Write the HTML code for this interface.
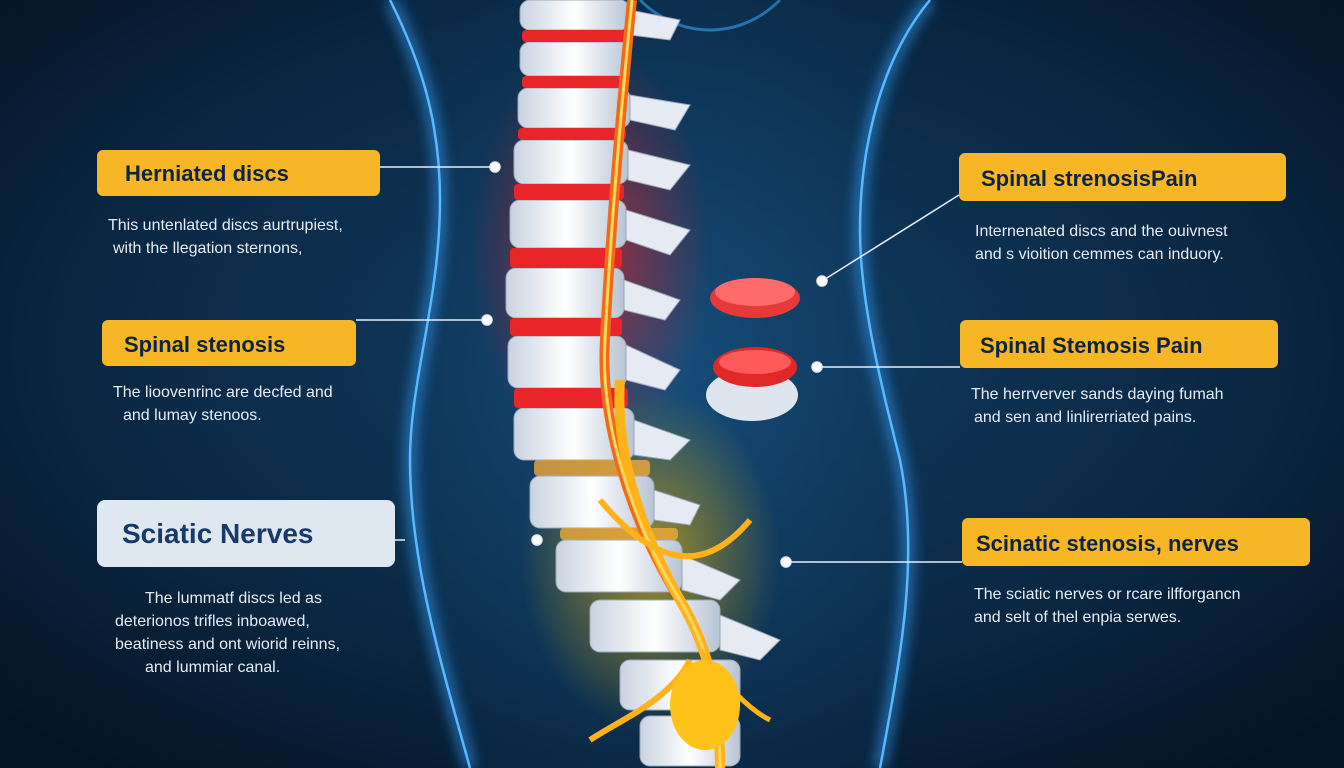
<!DOCTYPE html>
<html><head><meta charset="utf-8"><style>
html,body{margin:0;padding:0;width:1344px;height:768px;overflow:hidden;background:#071a2e}
svg{display:block}
</style></head><body>
<svg width="1344" height="768" viewBox="0 0 1344 768" xmlns="http://www.w3.org/2000/svg" font-family="Liberation Sans, sans-serif">
<defs>
<radialGradient id="bg" cx="0.5" cy="0.45" r="0.7">
<stop offset="0" stop-color="#123d63"/><stop offset="0.6" stop-color="#0a2844"/><stop offset="1" stop-color="#051324"/>
</radialGradient>
<radialGradient id="body" cx="0.5" cy="0.5" r="0.6">
<stop offset="0" stop-color="#1a5a8c" stop-opacity="0.6"/><stop offset="1" stop-color="#0d3458" stop-opacity="0.35"/>
</radialGradient>
<linearGradient id="vert" x1="0" x2="1"><stop offset="0" stop-color="#c9d3e0"/><stop offset="0.5" stop-color="#ffffff"/><stop offset="1" stop-color="#b8c4d4"/></linearGradient>
<radialGradient id="redglow" cx="0.5" cy="0.5" r="0.5"><stop offset="0" stop-color="#ff2020" stop-opacity="0.6"/><stop offset="1" stop-color="#ff2020" stop-opacity="0"/></radialGradient>
<radialGradient id="yglow" cx="0.5" cy="0.5" r="0.5"><stop offset="0" stop-color="#ffc400" stop-opacity="0.6"/><stop offset="1" stop-color="#ffc400" stop-opacity="0"/></radialGradient>
<filter id="blur"><feGaussianBlur stdDeviation="6"/></filter>
</defs>
<rect width="1344" height="768" fill="url(#bg)"/>
<path d="M390 0 C420 60 440 120 440 200 C440 300 410 380 410 460 C410 560 440 660 470 768 L880 768 C900 660 920 560 900 460 C880 380 860 300 860 230 C860 150 880 60 930 0 Z" fill="url(#body)"/>
<path d="M390 0 C420 60 440 120 440 200 C440 300 410 380 410 460 C410 560 440 660 470 768 M930 0 C880 60 860 150 860 230 C860 300 880 380 900 460 C920 560 900 660 880 768" fill="none" stroke="#2f8fe0" stroke-width="14" opacity="0.6" filter="url(#blur)"/>
<path d="M390 0 C420 60 440 120 440 200 C440 300 410 380 410 460 C410 560 440 660 470 768 M930 0 C880 60 860 150 860 230 C860 300 880 380 900 460 C920 560 900 660 880 768" fill="none" stroke="#5ab8ff" stroke-width="2.5"/>
<path d="M640 0 C680 40 740 40 780 0" fill="none" stroke="#3a9ee8" stroke-width="3" opacity="0.6"/>
<ellipse cx="590" cy="250" rx="120" ry="210" fill="url(#redglow)"/>
<ellipse cx="650" cy="560" rx="130" ry="170" fill="url(#yglow)"/>
<g>
<g fill="url(#vert)" stroke="#9aa8bb" stroke-width="1">
<rect x="520" y="0" width="110" height="30" rx="10"/>
<rect x="520" y="42" width="110" height="34" rx="10"/>
<rect x="518" y="88" width="112" height="40" rx="10"/>
<rect x="514" y="140" width="114" height="44" rx="10"/>
<rect x="510" y="200" width="116" height="48" rx="10"/>
<rect x="506" y="268" width="118" height="50" rx="10"/>
<rect x="508" y="336" width="118" height="52" rx="10"/>
<rect x="514" y="408" width="120" height="52" rx="10"/>
<rect x="530" y="476" width="124" height="52" rx="10"/>
<rect x="556" y="540" width="126" height="52" rx="10"/>
<rect x="590" y="600" width="130" height="52" rx="10"/>
<rect x="620" y="660" width="120" height="50" rx="10"/>
<rect x="640" y="716" width="100" height="50" rx="10"/>
</g>
<g fill="#e8262a">
<rect x="522" y="30" width="104" height="12" rx="4"/>
<rect x="522" y="76" width="104" height="12" rx="4"/>
<rect x="518" y="128" width="108" height="12" rx="4"/>
<rect x="514" y="184" width="110" height="16" rx="4"/>
<rect x="510" y="248" width="112" height="20" rx="4"/>
<rect x="510" y="318" width="112" height="18" rx="4"/>
<rect x="514" y="388" width="114" height="20" rx="4"/>
</g>
<g fill="#f0a93a" opacity="0.8">
<rect x="534" y="460" width="116" height="16" rx="4"/>
<rect x="560" y="528" width="118" height="12" rx="4"/>
</g>
<g fill="#e6ebf3" stroke="#9aa8bb">
<path d="M630 10 L680 20 L670 40 L630 35Z"/><path d="M630 95 L690 105 L675 130 L630 120Z"/>
<path d="M628 150 L690 165 L670 190 L628 180Z"/><path d="M626 210 L690 230 L670 255 L626 240Z"/>
<path d="M624 280 L680 300 L665 320 L624 310Z"/><path d="M626 345 L680 370 L665 390 L626 380Z"/>
<path d="M634 420 L690 440 L670 460 L634 455Z"/><path d="M654 490 L700 505 L690 525 L654 520Z"/>
<path d="M682 555 L740 580 L720 600 L682 590Z"/><path d="M720 615 L780 640 L760 660 L720 650Z"/>
</g>
</g>
<path d="M632 0 C620 120 610 240 605 340 C600 420 630 520 680 600 C710 650 720 700 720 768" fill="none" stroke="#f06a1a" stroke-width="10"/>
<path d="M620 380 C615 450 640 530 680 600 C710 650 720 700 720 768" fill="none" stroke="#ffb21a" stroke-width="10"/>
<path d="M632 0 C620 120 610 240 605 340 C600 420 630 520 680 600 C710 650 720 700 720 768" fill="none" stroke="#ffd75a" stroke-width="3"/>
<path d="M600 500 C650 560 700 580 750 520" fill="none" stroke="#ffb21a" stroke-width="6"/>
<path d="M690 660 C670 700 620 720 590 740" fill="none" stroke="#ffb21a" stroke-width="6"/>
<path d="M700 650 C730 690 750 710 770 720" fill="none" stroke="#ffb21a" stroke-width="5"/>
<ellipse cx="705" cy="705" rx="35" ry="45" fill="#ffc21a"/>
<ellipse cx="755" cy="298" rx="45" ry="20" fill="#e63a3a"/><ellipse cx="755" cy="292" rx="40" ry="14" fill="#ff6b6b"/>
<ellipse cx="752" cy="395" rx="46" ry="26" fill="#dde4ee"/>
<ellipse cx="755" cy="367" rx="42" ry="20" fill="#e02828"/><ellipse cx="755" cy="362" rx="36" ry="12" fill="#ff5a5a"/>
<g stroke="#e8eef6" stroke-width="1.5" fill="#fff">
<line x1="380" y1="167" x2="495" y2="167"/><circle cx="495" cy="167" r="5"/>
<line x1="356" y1="320" x2="487" y2="320"/><circle cx="487" cy="320" r="5"/>
<line x1="395" y1="540" x2="405" y2="540"/><circle cx="537" cy="540" r="5"/>
<line x1="822" y1="281" x2="959" y2="195"/><circle cx="822" cy="281" r="5"/>
<line x1="817" y1="367" x2="960" y2="367"/><circle cx="817" cy="367" r="5"/>
<line x1="786" y1="562" x2="962" y2="562"/><circle cx="786" cy="562" r="5"/>
</g>
<g fill="#f6b625">
<rect x="97" y="150" width="283" height="46" rx="6"/>
<rect x="102" y="320" width="254" height="46" rx="6"/>
<rect x="959" y="153" width="327" height="48" rx="6"/>
<rect x="960" y="320" width="318" height="48" rx="6"/>
<rect x="962" y="518" width="348" height="48" rx="6"/>
</g>
<rect x="97" y="500" width="298" height="67" rx="8" fill="#dfe7f1"/>
<g fill="#0d2440" font-weight="bold" font-size="22">
<text x="125" y="181">Herniated discs</text>
<text x="124" y="352">Spinal stenosis</text>
<text x="981" y="186">Spinal strenosisPain</text>
<text x="980" y="353">Spinal Stemosis Pain</text>
<text x="976" y="551">Scinatic stenosis, nerves</text>
<text x="122" y="543" font-size="28" fill="#163a6a">Sciatic Nerves</text>
</g>
<g fill="#e6edf5" font-size="16">
<text x="108" y="230">This untenlated discs aurtrupiest,</text>
<text x="113" y="253">with the llegation sternons,</text>
<text x="113" y="397">The lioovenrinc are decfed and</text>
<text x="123" y="420">and lumay stenoos.</text>
<text x="145" y="603">The lummatf discs led as</text>
<text x="115" y="626">deterionos trifles inboawed,</text>
<text x="115" y="649">beatiness and ont wiorid reinns,</text>
<text x="145" y="672">and lummiar canal.</text>
<text x="975" y="236">Internenated discs and the ouivnest</text>
<text x="975" y="259">and s vioition cemmes can induory.</text>
<text x="971" y="399">The herrverver sands daying fumah</text>
<text x="974" y="422">and sen and linlirerriated pains.</text>
<text x="974" y="599">The sciatic nerves or rcare ilfforgancn</text>
<text x="974" y="622">and selt of thel enpia serwes.</text>
</g>
</svg>
</body></html>
